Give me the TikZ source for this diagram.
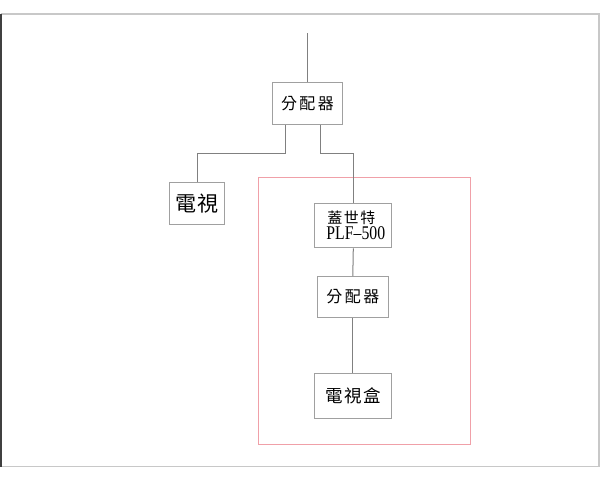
\documentclass[tikz,border=0pt]{standalone}
\usepackage{fontspec}
\newfontfamily\cjk{Noto Sans CJK TC}
\newfontfamily\lat{Liberation Serif}
\begin{document}
\begin{tikzpicture}[x=1pt,y=-1pt,
  box/.style={draw=boxgray,line width=1pt,inner sep=0pt,minimum width=#1},
  wire/.style={draw=wiregray,line width=1pt}]
\definecolor{boxgray}{HTML}{A0A0A0}
\definecolor{wiregray}{HTML}{808080}
\definecolor{framegray}{HTML}{C8C8C8}
\definecolor{pinkred}{HTML}{F0A0A8}
\useasboundingbox (0,0) rectangle (600,480);
% outer frame
\draw[framegray,line width=1.5pt] (0.5,14) -- (599,14) -- (599,466.7) -- (0.5,466.7);
\draw[black!75,line width=1.5pt] (0.75,14) -- (0.75,466.7);
% red group
\draw[pinkred,line width=1pt] (258.5,177) rectangle (470.3,444);
% nodes
\node[box=70.4pt,minimum height=42pt] (top) at (307.5,103.3)
  {\cjk\fontsize{16}{18}\selectfont 分\kern2.5pt 配\kern2.5pt 器};
\node[box=55.4pt,minimum height=41.7pt] (tv) at (197,203.2)
  {\cjk\fontsize{21}{24}\selectfont 電\kern1.5pt 視};
\node[box=77pt,minimum height=44.6pt,align=left,anchor=north west] (gst) at (314.3,202.7)
  {\cjk\fontsize{15}{16}\selectfont\hspace*{6pt}蓋\kern1.5pt 世\kern1.5pt 特\\[1pt]
   \hspace*{5pt}\lat\fontsize{19}{19}\selectfont\scalebox{0.83}[1.02]{PLF–500}};
\node[box=71pt,minimum height=40.6pt] (sp) at (352.8,297)
  {\cjk\fontsize{16}{18}\selectfont 分\kern2.5pt 配\kern2.5pt 器};
\node[box=77pt,minimum height=45pt] (stb) at (352.8,395.8)
  {\cjk\fontsize{17.5}{20}\selectfont 電\kern1.5pt 視\kern1.5pt 盒};
\coordinate (in) at (307.5,33);
% wires
\draw[wire] (in) -- (top.north);
\draw[wire] (top.south -| 285.7,0) -- (285.7,153.3) -| (tv.north);
\draw[wire] (top.south -| 320.7,0) -- (320.7,153.3) -| (gst.north);
\draw[wire] (gst.south) -- (sp.north);
\draw[wire] (sp.south) -- (stb.north);
\end{tikzpicture}
\end{document}
